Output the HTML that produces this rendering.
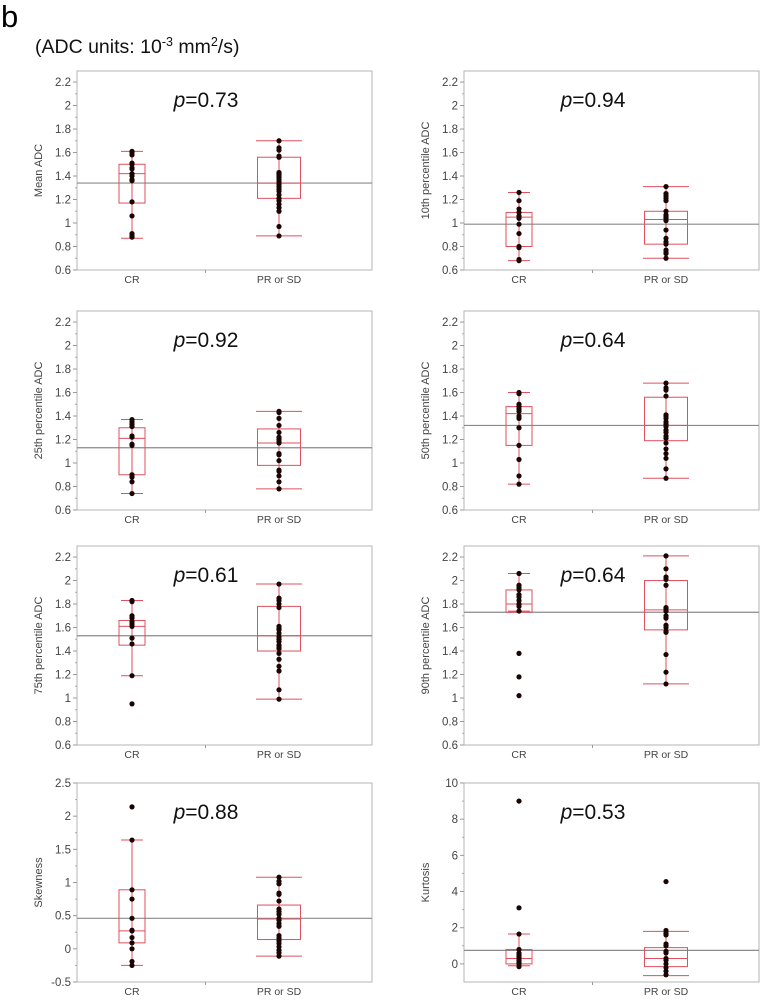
<!DOCTYPE html>
<html><head><meta charset="utf-8"><style>
body{margin:0;background:#fff;width:761px;height:995px;overflow:hidden;font-family:"Liberation Sans",sans-serif}
</style></head><body>
<svg id="fig" width="761" height="995" xmlns="http://www.w3.org/2000/svg">
<text x="1" y="27" font-size="31" font-family="Liberation Sans" fill="#000">b</text>
<text x="35" y="53" font-size="19.5" font-family="Liberation Sans" fill="#111">(ADC units: 10<tspan dy="-7" font-size="12.5">-3</tspan><tspan dy="7"> mm</tspan><tspan dy="-7" font-size="12.5">2</tspan><tspan dy="7">/s)</tspan></text>
</svg>
<script>
// ---- data ----
const categories = ["CR","PR or SD"];
const titles = ["Mean ADC","10th percentile ADC","25th percentile ADC","50th percentile ADC","75th percentile ADC","90th percentile ADC","Skewness","Kurtosis"];
const pValues = ["0.73","0.94","0.92","0.64","0.61","0.64","0.88","0.53"];
const crPoints = [
 [1.61,1.6,1.58,1.51,1.5,1.47,1.46,1.42,1.4,1.37,1.36,1.18,1.06,0.91,0.89,0.88],
 [1.26,1.19,1.12,1.09,1.06,1.04,0.99,0.91,0.80,0.79,0.69,0.68],
 [1.37,1.35,1.33,1.31,1.23,1.22,1.16,1.15,0.90,0.88,0.84,0.74],
 [1.60,1.59,1.50,1.48,1.46,1.44,1.40,1.38,1.30,1.15,1.03,0.89,0.82],
 [1.83,1.82,1.70,1.68,1.65,1.63,1.61,1.51,1.46,1.19,0.95],
 [2.06,1.96,1.94,1.92,1.88,1.86,1.83,1.80,1.78,1.74,1.38,1.18,1.02],
 [2.14,1.64,0.89,0.75,0.46,0.28,0.27,0.17,0.09,0.0,-0.19,-0.25],
 [9.0,3.1,1.65,0.8,0.6,0.5,0.4,0.3,0.2,0.1,0.0,-0.15]
];
const prPoints = [
 [1.70,1.64,1.62,1.57,1.56,1.43,1.42,1.41,1.40,1.39,1.37,1.35,1.33,1.31,1.29,1.27,1.24,1.21,1.19,1.16,1.13,1.10,0.97,0.89],
 [1.31,1.25,1.23,1.21,1.19,1.10,1.07,1.06,1.05,1.04,1.02,0.94,0.87,0.84,0.82,0.77,0.75,0.74,0.70],
 [1.44,1.43,1.38,1.32,1.26,1.22,1.20,1.18,1.17,1.08,1.07,1.02,0.94,0.93,0.89,0.84,0.78],
 [1.68,1.64,1.62,1.57,1.41,1.40,1.38,1.35,1.33,1.31,1.28,1.26,1.23,1.21,1.17,1.12,1.08,1.04,0.95,0.87],
 [1.97,1.85,1.83,1.80,1.77,1.61,1.59,1.58,1.55,1.52,1.50,1.48,1.45,1.43,1.42,1.38,1.33,1.27,1.23,1.07,0.99],
 [2.21,2.10,2.03,2.01,1.96,1.77,1.76,1.74,1.70,1.68,1.62,1.60,1.57,1.56,1.37,1.22,1.12],
 [1.08,1.02,0.98,0.84,0.82,0.72,0.60,0.56,0.52,0.46,0.43,0.38,0.34,0.20,0.16,0.12,0.08,0.03,-0.02,-0.06,-0.11],
 [4.55,1.85,1.7,1.6,1.1,1.0,0.7,0.6,0.3,0.2,0.0,-0.2,-0.4,-0.6]
];
// [whiskerLow, q1, median, q3, whiskerHigh]
const crBox = [[0.87,1.17,1.42,1.50,1.61],[0.68,0.80,1.05,1.09,1.26],[0.74,0.90,1.21,1.30,1.37],[0.82,1.15,1.42,1.48,1.60],[1.19,1.45,1.61,1.66,1.83],[1.74,1.73,1.80,1.92,2.06],[-0.25,0.09,0.27,0.89,1.64],[-0.1,0.0,0.3,0.8,1.65]];
const prBox = [[0.89,1.21,1.34,1.56,1.70],[0.70,0.82,1.03,1.10,1.31],[0.78,0.98,1.17,1.29,1.44],[0.87,1.19,1.32,1.56,1.68],[0.99,1.40,1.53,1.78,1.97],[1.12,1.58,1.75,2.00,2.21],[-0.11,0.14,0.45,0.66,1.08],[-0.65,-0.15,0.3,0.9,1.8]];
const grandMeans = [1.34,0.99,1.13,1.32,1.53,1.73,0.46,0.75];
const adcTicks = [0.6,0.8,1,1.2,1.4,1.6,1.8,2,2.2];
const skewTicks = [-0.5,0,0.5,1,1.5,2,2.5];
const kurtTicks = [0,2,4,6,8,10];
const domains = [[0.6,2.294],[0.6,2.294],[0.6,2.294],[0.6,2.294],[0.6,2.294],[0.6,2.294],[-0.5,2.5],[-1,10]];
// ---- layout ----
const svg = document.getElementById('fig');
const NS = 'http://www.w3.org/2000/svg';
const lefts = [77,464];
const tops = [71,311,546,783];
const W = 295, H = 199;
const RED = '#e0505e';
function mk(tag, attrs, parent){const e=document.createElementNS(NS,tag);for(const k in attrs)e.setAttribute(k,attrs[k]);(parent||svg).appendChild(e);return e;}
function fmt(v){return String(v);}
for(let i=0;i<8;i++){
  const L = lefts[i%2], T = tops[Math.floor(i/2)], B = T+H;
  const [d0,d1] = domains[i];
  const y = v => B - (v-d0)/(d1-d0)*H;
  const xCat = [L+55, L+202];
  const g = mk('g',{});
  
  
  const frame = mk('rect',{x:L,y:T,width:W,height:H,fill:'none',stroke:'#b5b5b5','stroke-width':1},g);
  
  
  const ticks = i<6?adcTicks:(i==6?skewTicks:kurtTicks);
  const step = ticks[1]-ticks[0];
  ticks.forEach((t,k)=>{
    const ty=y(t);
    const tk = mk('line',{x1:L-4,x2:L,y1:ty,y2:ty,stroke:'#999'},g);
    
    
    if(k<ticks.length-1){const my=y(t+step/2);mk('line',{x1:L-2,x2:L,y1:my,y2:my,stroke:'#aaa'},g);}
    const tl = mk('text',{x:L-6,y:ty+4,'text-anchor':'end','font-size':11.5,fill:'#444'},g);
    tl.textContent = fmt(t);
    
    
  });
  const yt = mk('text',{x:0,y:0,'text-anchor':'middle','font-size':11,fill:'#444',transform:`translate(${L-35},${T+H/2}) rotate(-90)`},g);
  yt.textContent = titles[i];
  
  
  mk('line',{x1:(xCat[0]+xCat[1])/2,x2:(xCat[0]+xCat[1])/2,y1:B,y2:B+3,stroke:'#999'},g);
  categories.forEach((c,k)=>{
    const cl = mk('text',{x:xCat[k],y:B+13,'text-anchor':'middle','font-size':10.5,fill:'#444'},g);
    cl.textContent = c;
    
    
  });
  const pt = mk('text',{x:L+129,y:T+36,'text-anchor':'middle','font-size':21,fill:'#111'},g);
  pt.innerHTML = '<tspan font-style="italic">p</tspan>='+pValues[i];
  
  
  const ml = mk('line',{x1:L,x2:L+W,y1:y(grandMeans[i]),y2:y(grandMeans[i]),stroke:'#8a8a8a','stroke-width':1.2},g);
  
  
  [crBox[i],prBox[i]].forEach((bx,k)=>{
    const cx = xCat[k], hw = k==0?13:21.5, cw = k==0?11:23;
    const bg = mk('g',{},g);
    
    
    mk('line',{x1:cx,x2:cx,y1:y(bx[0]),y2:y(bx[4]),stroke:RED},bg);
    mk('line',{x1:cx-cw,x2:cx+cw,y1:y(bx[0]),y2:y(bx[0]),stroke:RED},bg);
    mk('line',{x1:cx-cw,x2:cx+cw,y1:y(bx[4]),y2:y(bx[4]),stroke:RED},bg);
    const top = Math.max(bx[1],bx[3]), bot = Math.min(bx[1],bx[3]);
    mk('rect',{x:cx-hw,y:y(top),width:2*hw,height:y(bot)-y(top),fill:'none',stroke:RED},bg);
    mk('line',{x1:cx-hw,x2:cx+hw,y1:y(bx[2]),y2:y(bx[2]),stroke:RED},bg);
  });
  [crPoints[i],prPoints[i]].forEach((pts,k)=>{
    pts.forEach(v=>{
      const c = mk('circle',{cx:xCat[k],cy:y(v),r:2.6,fill:'#1a0505'},g);
      
      
    });
  });
}
</script>
</body></html>
